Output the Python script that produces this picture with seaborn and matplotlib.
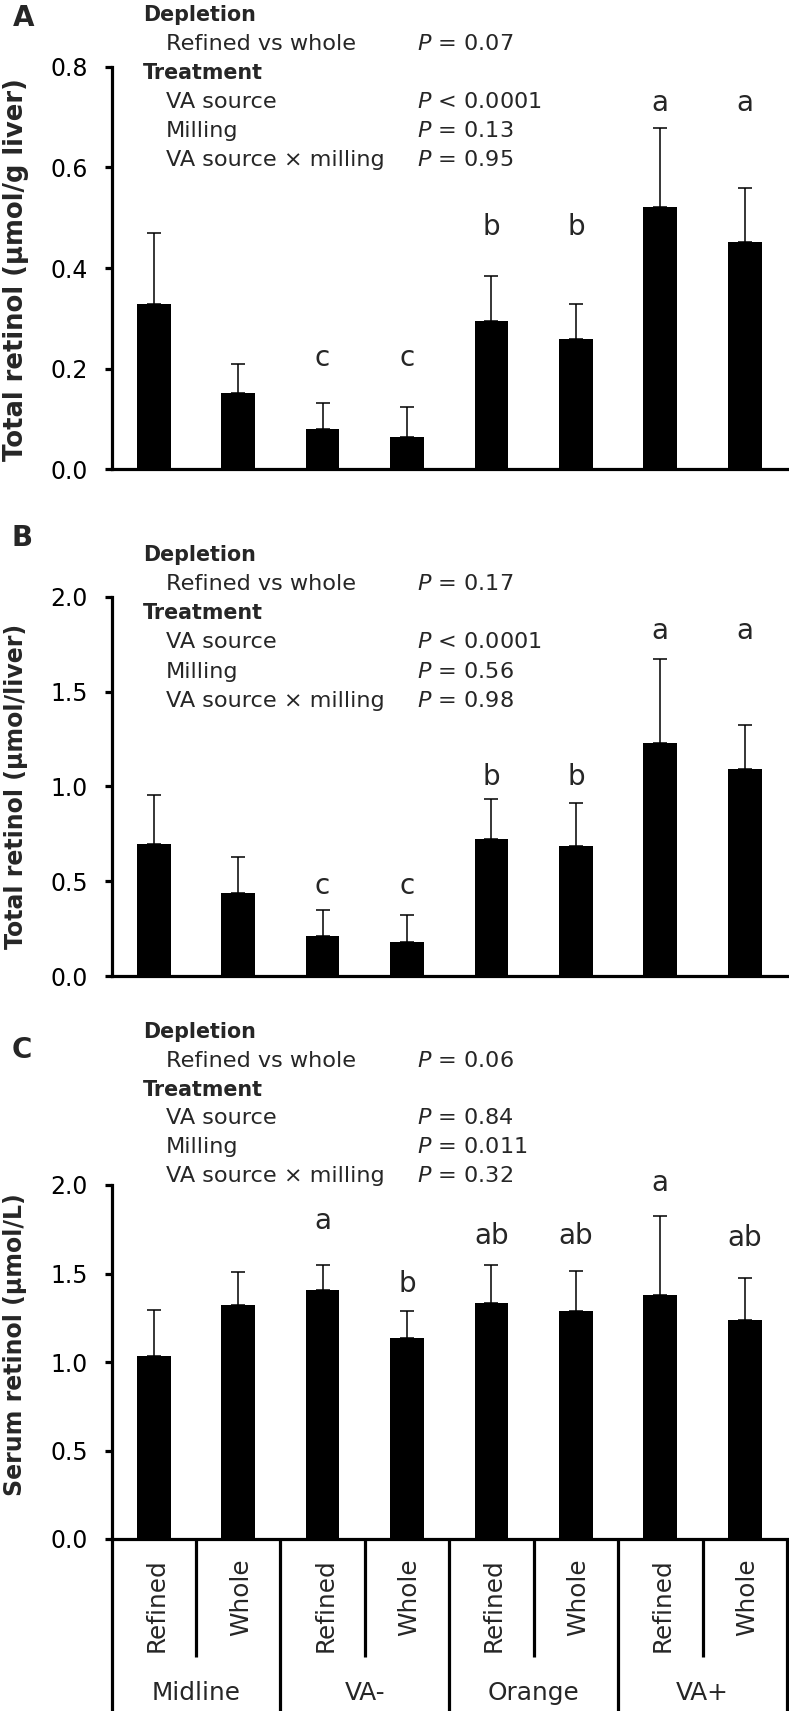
import numpy as np
import pandas as pd
import seaborn as sns
import matplotlib.pyplot as plt
from matplotlib.ticker import FormatStrFormatter

sns.set_style('ticks')
plt.rcParams['font.family'] = ['DejaVu Sans']
plt.rcParams['mathtext.fontset'] = 'dejavusans'

# categories
groups = ['Midline', 'VA-', 'Orange', 'VA+']
milling = ['Refined', 'Whole']

# A: total retinol, umol/g liver
conc_mean = [0.328, 0.151, 0.080, 0.065, 0.295, 0.258, 0.521, 0.451]
conc_sd = [0.142, 0.058, 0.052, 0.058, 0.089, 0.070, 0.158, 0.108]
conc_letters = ['', '', 'c', 'c', 'b', 'b', 'a', 'a']
conc_letter_y = [0, 0, 0.205, 0.205, 0.466, 0.466, 0.711, 0.711]
conc_p = ['= 0.07', '< 0.0001', '= 0.13', '= 0.95']

# B: total retinol, umol/liver
total_mean = [0.698, 0.438, 0.211, 0.178, 0.723, 0.688, 1.231, 1.091]
total_sd = [0.259, 0.188, 0.136, 0.144, 0.211, 0.225, 0.442, 0.235]
total_letters = ['', '', 'c', 'c', 'b', 'b', 'a', 'a']
total_letter_y = [0, 0, 0.432, 0.432, 1.006, 1.006, 1.775, 1.775]
total_p = ['= 0.17', '< 0.0001', '= 0.56', '= 0.98']

# C: serum retinol, umol/L
serum_mean = [1.034, 1.322, 1.405, 1.138, 1.332, 1.287, 1.381, 1.237]
serum_sd = [0.258, 0.189, 0.142, 0.149, 0.217, 0.229, 0.442, 0.236]
serum_letters = ['', '', 'a', 'b', 'ab', 'ab', 'a', 'ab']
serum_letter_y = [0, 0, 1.752, 1.398, 1.665, 1.665, 1.965, 1.653]
serum_p = ['= 0.06', '= 0.84', '= 0.011', '= 0.32']

stat_rows = ['Depletion', 'Refined vs whole', 'Treatment',
             'VA source', 'Milling', 'VA source \u00d7 milling']

conds = [g + ' ' + m for g in groups for m in milling]

W, H = 789, 1711
fig = plt.figure(figsize=(W / 100, H / 100), dpi=100)

def fx(x):
    return x / W

def fy(y):
    return 1 - y / H

def make_ax(top, bottom, left=111.5, right=787):
    return fig.add_axes([fx(left), fy(bottom), (right - left) / W, (bottom - top) / H])

def draw_panel(ax, means, sds, letters, letter_y, ymax, step):
    df = pd.DataFrame({'cond': conds, 'mean': means})
    sns.barplot(data=df, x='cond', y='mean', order=conds, color='black',
                saturation=1, width=0.4, errorbar=None, linewidth=0, ax=ax)
    ax.errorbar(range(len(conds)), means, yerr=[np.zeros(len(sds)), sds],
                fmt='none', ecolor='black', elinewidth=1.1, capsize=5,
                capthick=1.1, zorder=3)
    for i, (s, y) in enumerate(zip(letters, letter_y)):
        if s:
            ax.text(i, y, s, ha='center', va='baseline', fontsize=20)
    ax.set_xlim(-0.5, len(conds) - 0.5)
    ax.set_ylim(0, ymax)
    ax.set_yticks(np.arange(0, ymax + 1e-9, step))
    ax.yaxis.set_major_formatter(FormatStrFormatter('%.1f'))
    for side in ['top', 'right']:
        ax.spines[side].set_visible(False)
    for side in ['left', 'bottom']:
        ax.spines[side].set_linewidth(2.3)
        ax.spines[side].set_color('black')
    ax.tick_params(axis='y', length=5.4, width=2.3, pad=11.5, labelsize=17,
                   colors='black')
    ax.tick_params(axis='x', length=0)
    ax.set_xlabel('')
    ax.set_ylabel('')
    ax.set_xticks([])

def draw_stats(y0, pvals, pitch=29):
    pi = 0
    for k, row in enumerate(stat_rows):
        y = fy(y0 + k * pitch)
        if row in ('Depletion', 'Treatment'):
            fig.text(fx(142.7), y, row, fontsize=14.9, fontweight='bold', va='baseline')
        else:
            fig.text(fx(165.7), y, row, fontsize=16.1, va='baseline')
            fig.text(fx(416.7), y, '$P$ ' + pvals[pi], fontsize=16.1, va='baseline')
            pi += 1

# panel A
axA = make_ax(66.7, 469.3)
draw_panel(axA, conc_mean, conc_sd, conc_letters, conc_letter_y, 0.8, 0.2)
draw_stats(20.7, conc_p)
fig.text(fx(16), fy(270), 'Total retinol (\u00b5mol/g liver)', rotation=90,
         ha='center', va='center', fontsize=18.6, fontweight='bold')
fig.text(fx(24), fy(18), 'A', ha='center', va='center', fontsize=20, fontweight='bold')

# panel B
axB = make_ax(596.7, 976)
draw_panel(axB, total_mean, total_sd, total_letters, total_letter_y, 2.0, 0.5)
draw_stats(560.7, total_p, pitch=29.2)
fig.text(fx(16), fy(786.5), 'Total retinol (\u00b5mol/liver)', rotation=90,
         ha='center', va='center', fontsize=17, fontweight='bold')
fig.text(fx(22), fy(538), 'B', ha='center', va='center', fontsize=20, fontweight='bold')

# panel C
c_top, c_bot = 1185, 1539
axC = make_ax(c_top, c_bot)
draw_panel(axC, serum_mean, serum_sd, serum_letters, serum_letter_y, 2.0, 0.5)
draw_stats(1038, serum_p, pitch=28.8)
fig.text(fx(15), fy(1345), 'Serum retinol (\u00b5mol/L)', rotation=90,
         ha='center', va='center', fontsize=17, fontweight='bold')
fig.text(fx(22), fy(1050), 'C', ha='center', va='center', fontsize=20, fontweight='bold')

# category table under panel C
def ax_y(px):
    return (c_bot - px) / (c_bot - c_top)

trans = axC.get_xaxis_transform()
n_m = len(milling)
for i, lab in enumerate(milling * len(groups)):
    axC.text(i + 0.03, ax_y(1558), lab, transform=trans, rotation=90,
             ha='center', va='top', fontsize=17.8)
for b in np.arange(len(groups) + 1) * n_m - 0.5:
    axC.plot([b, b], [0, ax_y(1711)], transform=trans, clip_on=False,
             color='black', lw=2.3, solid_capstyle='butt')
for b in np.arange(len(groups)) * n_m + 0.5:
    axC.plot([b, b], [0, ax_y(1657)], transform=trans, clip_on=False,
             color='black', lw=2.3, solid_capstyle='butt')
for i, g in enumerate(groups):
    axC.text(i * n_m + (n_m - 1) / 2, ax_y(1700), g, transform=trans,
             ha='center', va='baseline', fontsize=17.8)

fig.savefig('out.png', dpi=100)
